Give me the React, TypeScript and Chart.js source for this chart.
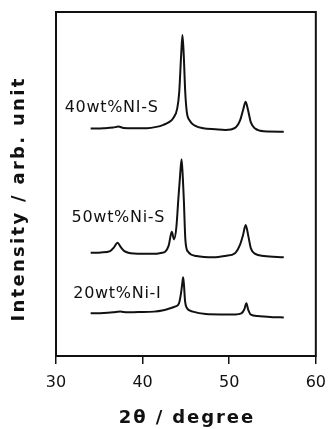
import React, { useEffect, useRef } from "react";
import { Chart, registerables } from "chart.js";

Chart.register(...registerables);

// 2θ (degree) vs intensity (arb. unit)
const s40: [number, number][] = [
  [34.0, 66.1], [35.5, 66.2], [36.6, 66.4], [37.2, 66.7], [37.8, 66.3], [39.0, 66.2],
  [40.5, 66.2], [41.6, 66.6], [42.4, 67.2], [43.0, 67.9], [43.55, 69.2], [44.0, 72.0],
  [44.23, 76.8], [44.45, 87.5], [44.6, 93.3], [44.75, 87.5], [44.92, 76.8], [45.1, 71.0],
  [45.45, 68.4], [46.1, 66.9], [47.0, 66.2], [48.4, 65.9], [49.55, 65.7], [50.67, 66.3],
  [51.24, 68.4], [51.6, 71.5], [51.9, 73.9], [52.17, 71.5], [52.5, 67.9], [53.0, 66.1],
  [54.0, 65.3], [56.3, 65.2],
];
const s50: [number, number][] = [
  [34.0, 30.0], [35.2, 30.1], [36.25, 30.5], [36.7, 31.6], [37.1, 32.9], [37.5, 31.6],
  [37.9, 30.5], [39.0, 29.8], [41.3, 29.7], [42.2, 30.0], [42.6, 30.3], [43.0, 32.0],
  [43.37, 36.1], [43.63, 33.9], [43.9, 37.5], [44.12, 45.4], [44.3, 51.5], [44.5, 57.2],
  [44.65, 51.5], [44.76, 45.4], [44.94, 33.7], [45.25, 30.3], [46.2, 29.1], [48.2, 28.7],
  [49.55, 29.1], [50.67, 29.9], [51.24, 32.3], [51.6, 35.2], [51.9, 38.1], [52.22, 34.7],
  [52.5, 31.3], [53.0, 29.7], [54.0, 29.1], [56.3, 28.7],
];
const s20: [number, number][] = [
  [34.0, 12.4], [35.5, 12.5], [36.6, 12.7], [37.4, 12.9], [38.2, 12.7], [39.5, 12.8],
  [41.3, 12.9], [42.4, 13.3], [43.2, 13.9], [43.8, 14.4], [44.2, 15.3], [44.45, 18.5],
  [44.6, 21.5], [44.68, 22.9], [44.78, 20.5], [44.9, 16.0], [45.05, 14.2], [45.8, 12.9],
  [47.3, 12.2], [49.0, 12.1], [50.7, 12.1], [51.4, 12.4], [51.75, 13.6], [51.98, 15.3],
  [52.2, 13.4], [52.5, 12.0], [53.3, 11.6], [55.0, 11.3], [56.3, 11.2],
];

const seriesNames = ["40wt%NI-S", "50wt%Ni-S", "20wt%Ni-I"];
// label anchor (2θ, intensity) for each series name
const labelX = [31.0, 31.8, 32.0];
const labelY = [72.2, 40.3, 18.1];

const xTicks = [30, 40, 50, 60];
const xTitle = "2θ / degree";
const yTitle = "Intensity / arb. unit";

export default function App() {
  const ref = useRef<HTMLCanvasElement | null>(null);

  useEffect(() => {
    if (!ref.current) return;
    const toPts = (a: [number, number][]) => a.map(([x, y]) => ({ x, y }));

    const overlay = {
      id: "overlay",
      afterDraw(chart: any) {
        const { ctx, chartArea, scales } = chart;
        const xs = scales.x;
        const ys = scales.y;
        ctx.save();
        // frame
        ctx.strokeStyle = "#111";
        ctx.lineWidth = 2;
        ctx.strokeRect(chartArea.left, chartArea.top, chartArea.right - chartArea.left, chartArea.bottom - chartArea.top);
        // series labels
        ctx.fillStyle = "#111";
        ctx.font = "16px 'DejaVu Sans'";
        (ctx as any).letterSpacing = "0.7px";
        ctx.textAlign = "left";
        ctx.textBaseline = "middle";
        seriesNames.forEach((n, i) => {
          ctx.fillText(n, xs.getPixelForValue(labelX[i]), ys.getPixelForValue(labelY[i]));
        });
        // axis titles
        ctx.font = "bold 18px 'DejaVu Sans'";
        (ctx as any).letterSpacing = "1.9px";
        ctx.textAlign = "center";
        ctx.textBaseline = "middle";
        ctx.fillText(xTitle, (chartArea.left + chartArea.right) / 2 + 1, 418);
        (ctx as any).letterSpacing = "2.3px";
        ctx.translate(19, 200);
        ctx.rotate(-Math.PI / 2);
        ctx.fillText(yTitle, 1, 0);
        ctx.restore();
      },
    };

    const chart = new Chart(ref.current, {
      type: "line",
      data: {
        datasets: [s40, s50, s20].map((s) => ({
          data: toPts(s),
          borderColor: "#111",
          borderWidth: 2,
          pointRadius: 0,
          fill: false,
          cubicInterpolationMode: "monotone" as const,
        })),
      },
      options: {
        responsive: false,
        animation: false,
        events: [],
        layout: { padding: { left: 0, right: 12, top: 12, bottom: 0 } },
        plugins: { legend: { display: false }, tooltip: { enabled: false }, title: { display: false } },
        scales: {
          x: {
            type: "linear",
            min: 30,
            max: 60,
            afterBuildTicks: (s: any) => { s.ticks = xTicks.map((v) => ({ value: v })); },
            afterFit: (s: any) => { s.height = 73; },
            grid: { drawOnChartArea: false, drawTicks: true, tickLength: 8, color: "#111", lineWidth: 1.5 },
            border: { display: false },
            ticks: { color: "#111", font: { family: "'DejaVu Sans'", size: 16 }, padding: 9, maxRotation: 0 },
          },
          y: {
            type: "linear",
            min: 0,
            max: 100,
            afterFit: (s: any) => { s.width = 56; },
            grid: { display: false },
            border: { display: false },
            ticks: { display: false },
          },
        },
      },
      plugins: [overlay],
    });
    return () => chart.destroy();
  }, []);

  return (
    <div style={{ position: "absolute", left: 0, top: 0, width: 335, height: 429, background: "#fff" }}>
      <canvas ref={ref} width={335} height={429} style={{ display: "block" }} />
    </div>
  );
}
